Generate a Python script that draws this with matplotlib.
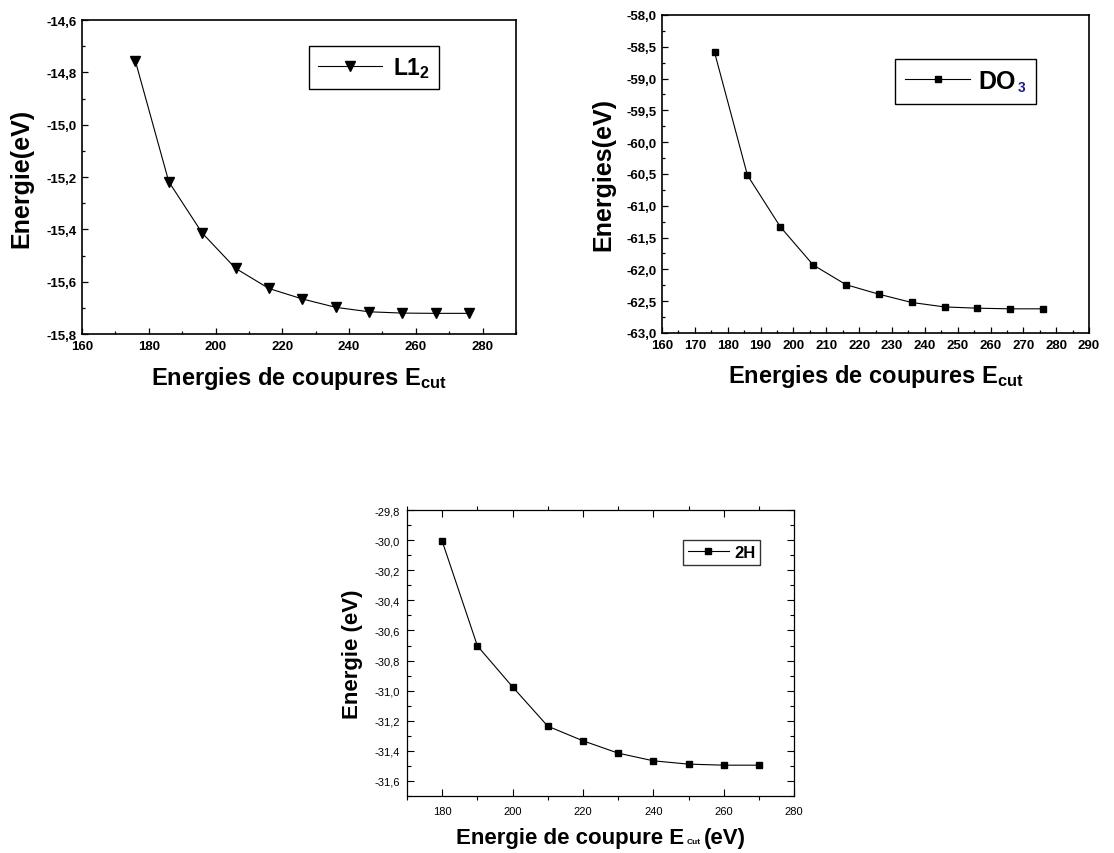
import matplotlib
matplotlib.use("Agg")
import matplotlib.pyplot as plt
from matplotlib.ticker import MultipleLocator, FuncFormatter
from matplotlib.offsetbox import TextArea, HPacker, AnchoredOffsetbox

plt.rcParams.update({
    "font.family": "sans-serif",
    "font.sans-serif": ["Liberation Sans", "Arial", "DejaVu Sans"],
    "mathtext.fontset": "custom",
    "mathtext.rm": "Liberation Sans",
    "mathtext.bf": "Liberation Sans:bold",
    "mathtext.it": "Liberation Sans:italic",
})

# ---------------------------------------------------------
# Data
# ---------------------------------------------------------

# L1_2 structure
ecut_l12   = [176, 186, 196, 206, 216, 226, 236, 246, 256, 266, 276]
energy_l12 = [-14.757, -15.218, -15.414, -15.549, -15.626, -15.666,
              -15.698, -15.715, -15.720, -15.721, -15.721]

# DO3 structure
ecut_do3   = [176, 186, 196, 206, 216, 226, 236, 246, 256, 266, 276]
energy_do3 = [-58.59, -60.52, -61.33, -61.93, -62.24, -62.39,
              -62.52, -62.59, -62.61, -62.62, -62.62]

# 2H structure
ecut_2h    = [180, 190, 200, 210, 220, 230, 240, 250, 260, 270]
energy_2h  = [-30.008, -30.703, -30.975, -31.236, -31.333, -31.415,
              -31.466, -31.488, -31.495, -31.495]

comma_fmt = FuncFormatter(lambda v, p: f"{v:.1f}".replace(".", ","))
int_fmt   = FuncFormatter(lambda v, p: f"{v:.0f}")

fig = plt.figure(figsize=(11.14, 8.54), dpi=100)

# ---------------------------------------------------------
# Top-left: L1_2
# ---------------------------------------------------------
ax1 = fig.add_axes([0.0736, 0.6077, 0.3896, 0.3677])
ax1.plot(ecut_l12, energy_l12, color="black", lw=0.8, marker="v",
         markersize=7, label=r"L1$_{\mathbf{2}}$")
ax1.set_xlim(160, 290)
ax1.set_ylim(-15.8, -14.6)
ax1.xaxis.set_major_locator(MultipleLocator(20))
ax1.xaxis.set_minor_locator(MultipleLocator(10))
ax1.yaxis.set_major_locator(MultipleLocator(0.2))
ax1.yaxis.set_minor_locator(MultipleLocator(0.1))
ax1.set_xlabel(r"Energies de coupures E$_{\mathbf{cut}}$", fontsize=17, fontweight="bold")
ax1.set_ylabel("Energie(eV)", fontsize=18, fontweight="bold")
ax1.xaxis.set_label_coords(0.5, -0.095)
ax1.yaxis.set_label_coords(-0.113, 0.5)
leg1 = ax1.legend(loc="upper left", bbox_to_anchor=(0.523, 0.917), borderaxespad=0,
                  prop={"size": 16.5, "weight": "bold"}, handlelength=2.8,
                  handletextpad=0.45, borderpad=0.4, fancybox=False,
                  edgecolor="black", framealpha=1)

# ---------------------------------------------------------
# Top-right: DO3
# ---------------------------------------------------------
ax2 = fig.add_axes([0.5943, 0.6089, 0.3833, 0.3724])
ax2.plot(ecut_do3, energy_do3, color="black", lw=0.8, marker="s",
         markersize=5, label="DO")
ax2.set_xlim(160, 290)
ax2.set_ylim(-63, -58)
ax2.xaxis.set_major_locator(MultipleLocator(10))
ax2.xaxis.set_minor_locator(MultipleLocator(5))
ax2.yaxis.set_major_locator(MultipleLocator(0.5))
ax2.yaxis.set_minor_locator(MultipleLocator(0.25))
ax2.set_xlabel(r"Energies de coupures E$_{\mathbf{cut}}$", fontsize=17, fontweight="bold")
ax2.set_ylabel("Energies(eV)", fontsize=18, fontweight="bold")
ax2.xaxis.set_label_coords(0.5, -0.09)
ax2.yaxis.set_label_coords(-0.110, 0.5)
leg2 = ax2.legend(loc="upper left", bbox_to_anchor=(0.546, 0.862), borderaxespad=0,
                  prop={"size": 18, "weight": "bold"}, handlelength=2.6,
                  handletextpad=0.32, borderpad=0.4, fancybox=False,
                  edgecolor="black", framealpha=1)
# blue subscript "3": wrap the legend label together with it
sub3 = TextArea(r"$_{\mathbf{3}}$", textprops=dict(fontsize=14, color="#1c1c8a"))
row = leg2._legend_handle_box.get_children()[0].get_children()[0]
label_box = row.get_children()[1]
label_pack = HPacker(children=[label_box, sub3], align="baseline", pad=0, sep=1)
label_pack.set_figure(fig)
sub3.set_figure(fig)
row.get_children()[1] = label_pack

for ax in (ax1, ax2):
    ax.xaxis.set_major_formatter(int_fmt)
    ax.yaxis.set_major_formatter(comma_fmt)
    ax.tick_params(which="both", direction="in", top=False, right=False,
                   labelsize=9.5, width=0.9, pad=4)
    ax.tick_params(which="major", length=4)
    ax.tick_params(which="minor", length=2)
    for lab in ax.get_xticklabels() + ax.get_yticklabels():
        lab.set_fontweight("bold")
    for sp in ax.spines.values():
        sp.set_linewidth(1.2)

# ---------------------------------------------------------
# Bottom: 2H
# ---------------------------------------------------------
ax3 = fig.add_axes([0.3654, 0.0667, 0.3474, 0.3349])
ax3.plot(ecut_2h, energy_2h, color="black", lw=0.8, marker="s",
         markersize=4.5, label="2H")
ax3.set_xlim(170, 280)
ax3.set_ylim(-31.7, -29.8)
ax3.xaxis.set_major_locator(MultipleLocator(20))
ax3.xaxis.set_minor_locator(MultipleLocator(10))
ax3.yaxis.set_major_locator(MultipleLocator(0.2))
ax3.yaxis.set_minor_locator(MultipleLocator(0.1))
ax3.xaxis.set_major_formatter(int_fmt)
ax3.yaxis.set_major_formatter(comma_fmt)
ax3.tick_params(which="both", labelsize=8, width=0.8, top=True, right=True,
                labeltop=False, labelright=False)
ax3.tick_params(axis="x", which="major", direction="in", length=5, pad=7)
ax3.tick_params(axis="x", which="minor", direction="out", length=3)
ax3.tick_params(axis="y", which="major", direction="in", length=5, pad=5)
ax3.tick_params(axis="y", which="minor", direction="in", length=3)
for sp in ax3.spines.values():
    sp.set_linewidth(0.9)
ax3.set_ylabel("Energie (eV)", fontsize=16, fontweight="bold")
ax3.yaxis.set_label_coords(-0.114, 0.5)
leg3 = ax3.legend(loc="upper left", bbox_to_anchor=(0.713, 0.895), borderaxespad=0,
                  prop={"size": 12, "weight": "bold"}, handlelength=2.46,
                  handletextpad=0.3, borderpad=0.3, fancybox=False,
                  edgecolor="#333333", framealpha=1)

xlab_parts = HPacker(children=[
    TextArea("Energie de coupure E", textprops=dict(fontsize=16, fontweight="bold")),
    TextArea("Cut", textprops=dict(fontsize=6, fontweight="bold")),
    TextArea("(eV)", textprops=dict(fontsize=16, fontweight="bold")),
], align="baseline", pad=0, sep=2)
xlab_box = AnchoredOffsetbox(loc="upper center", child=xlab_parts, pad=0,
                             borderpad=0, frameon=False,
                             bbox_to_anchor=(0.5, -0.11),
                             bbox_transform=ax3.transAxes)
ax3.add_artist(xlab_box)

fig.savefig("out.png", dpi=100)
